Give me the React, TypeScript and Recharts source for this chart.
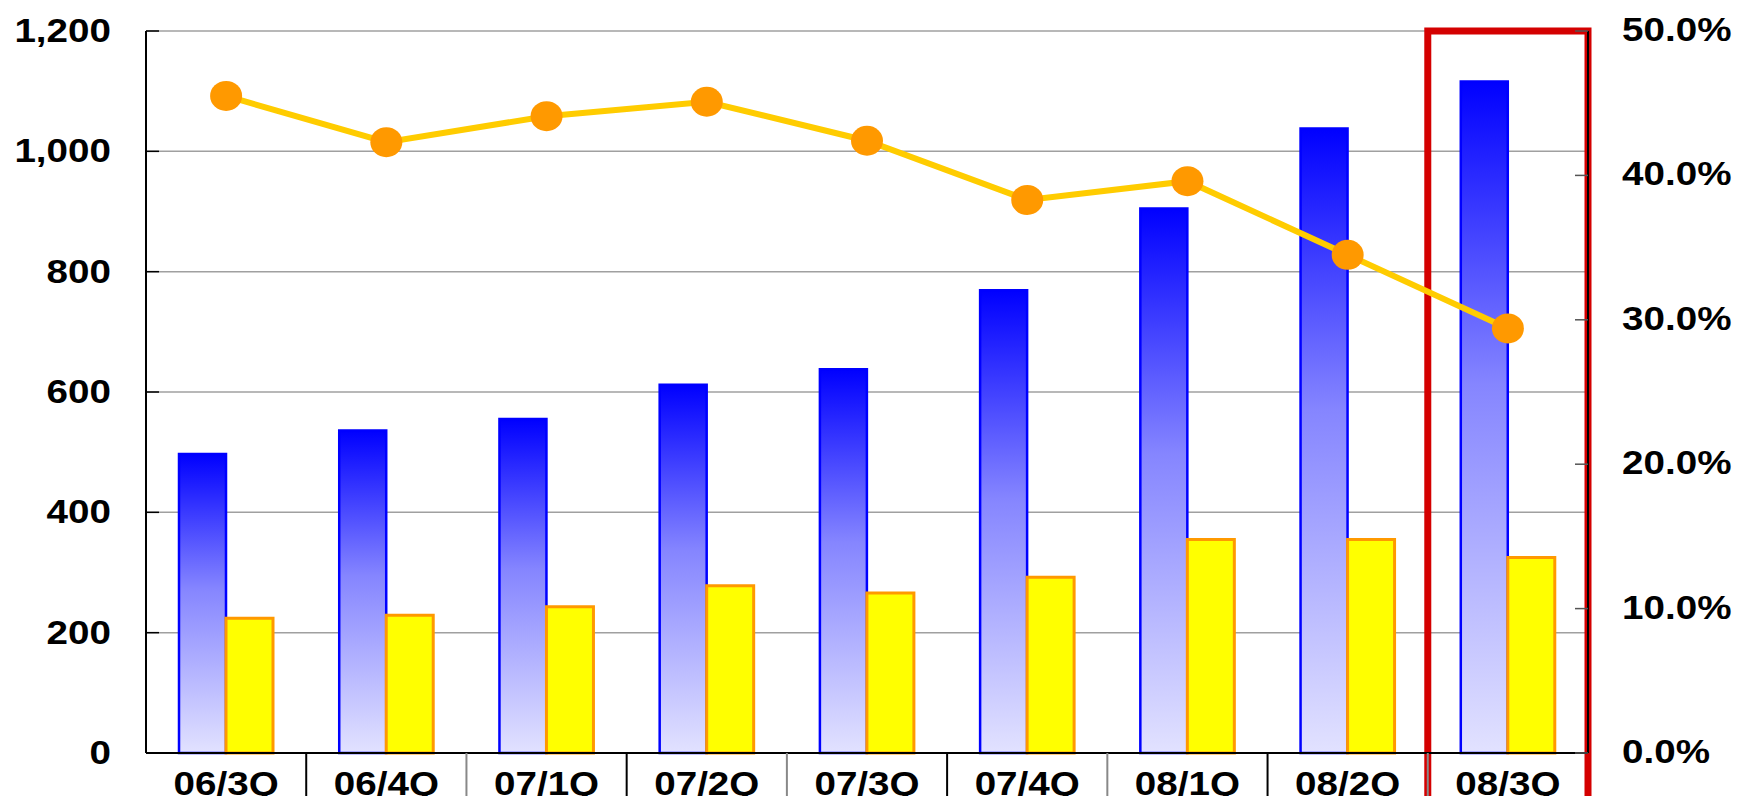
import { ComposedChart, Bar, Line, XAxis, YAxis, CartesianGrid, ReferenceArea } from 'recharts'

const quarters = ['06/3Q', '06/4Q', '07/1Q', '07/2Q', '07/3Q', '07/4Q', '08/1Q', '08/2Q', '08/3Q']
const totals = [497, 536, 555, 612, 638, 769, 905, 1038, 1116]
const parts = [224, 229, 243, 278, 266, 292, 355, 355, 325]
const ratios = [45.5, 42.3, 44.1, 45.1, 42.4, 38.3, 39.6, 34.5, 29.4]
const leftTicks = [0, 200, 400, 600, 800, 1000, 1200]
const rightTicks = [0, 10, 20, 30, 40, 50]

const W = 1737
const H = 796
const PLOT_LEFT = 146
const PLOT_RIGHT = 1588
const HALF_BAND = (PLOT_RIGHT - PLOT_LEFT) / quarters.length / 2
const FONT = '"Liberation Sans", Arial, sans-serif'
const STRETCH = 1.17

const data = quarters.map((q, i) => ({ q, total: totals[i], part: parts[i], ratio: ratios[i] }))

const LeftTick = ({ y, payload }: any) => (
  <g transform={`translate(111, ${y + 11}) scale(${STRETCH}, 1)`}>
    <text x={0} y={0} textAnchor="end" fontFamily={FONT} fontWeight="bold" fontSize={33} fill="#000">
      {payload.value.toLocaleString('en-US')}
    </text>
  </g>
)

const RightTick = ({ y, payload }: any) => (
  <g transform={`translate(1622, ${y + 10}) scale(${STRETCH}, 1)`}>
    <text x={0} y={0} textAnchor="start" fontFamily={FONT} fontWeight="bold" fontSize={33} fill="#000">
      {`${payload.value.toFixed(1)}%`}
    </text>
  </g>
)

const BottomTick = ({ x, y, payload, index }: any) => (
  <g>
    {index > 0 && (
      <line x1={x - HALF_BAND} x2={x - HALF_BAND} y1={753} y2={H} stroke={index % 2 ? '#000' : '#888'} strokeWidth={2} />
    )}
    <g transform={`translate(${x}, ${H - 1}) scale(${STRETCH}, 1)`}>
      <text x={0} y={0} textAnchor="middle" fontFamily={FONT} fontWeight="bold" fontSize={33} fill="#000">
        {payload.value}
      </text>
    </g>
  </g>
)

const Dot = ({ cx, cy, index }: any) => (
  <ellipse key={index} cx={cx} cy={cy} rx={16} ry={15} fill="#ff9900" />
)

const Highlight = ({ x, y, width }: any) => (
  <path
    d={`M${x} ${H + 10} L${x} ${y} L${x + width} ${y} L${x + width} ${H + 10}`}
    fill="none"
    stroke="#d40000"
    strokeWidth={7}
  />
)

export default function App() {
  return (
    <div style={{ position: 'absolute', left: 0, top: 0, background: '#fff' }}>
      <ComposedChart
        width={W}
        height={H}
        data={data}
        margin={{ top: 31, right: 0, bottom: 0, left: 0 }}
        barCategoryGap="20.6%"
        barGap={0}
      >
        <defs>
          <linearGradient id="blueGrad" x1="0" y1="0" x2="0" y2="1">
            <stop offset="0%" stopColor="#0000ff" />
            <stop offset="45%" stopColor="#8585ff" />
            <stop offset="100%" stopColor="#e2e2ff" />
          </linearGradient>
        </defs>
        <CartesianGrid vertical={false} stroke="#a0a0a0" strokeWidth={1.5} yAxisId="left" />
        <XAxis
          dataKey="q"
          height={43}
          axisLine={{ stroke: '#000', strokeWidth: 2 }}
          tickLine={false}
          tick={<BottomTick />}
          interval={0}
        />
        <YAxis
          yAxisId="left"
          orientation="left"
          width={PLOT_LEFT}
          domain={[0, 1200]}
          ticks={leftTicks}
          axisLine={{ stroke: '#000', strokeWidth: 2 }}
          tickLine={{ stroke: '#000', strokeWidth: 1.5 }}
          tickSize={-13}
          tick={<LeftTick />}
          interval={0}
        />
        <YAxis
          yAxisId="right"
          orientation="right"
          width={W - PLOT_RIGHT}
          domain={[0, 50]}
          ticks={rightTicks}
          axisLine={{ stroke: '#000', strokeWidth: 2 }}
          tickLine={{ stroke: '#555', strokeWidth: 1.5 }}
          tickSize={-13}
          tick={<RightTick />}
          interval={0}
        />
        <Bar
          yAxisId="left"
          dataKey="total"
          fill="url(#blueGrad)"
          stroke="#0000ff"
          strokeWidth={2.5}
          isAnimationActive={false}
        />
        <Bar
          yAxisId="left"
          dataKey="part"
          fill="#ffff00"
          stroke="#ff9900"
          strokeWidth={3}
          isAnimationActive={false}
        />
        <Line
          yAxisId="right"
          dataKey="ratio"
          stroke="#ffcc00"
          strokeWidth={6}
          dot={<Dot />}
          activeDot={false}
          isAnimationActive={false}
        />
        <ReferenceArea
          yAxisId="left"
          x1="08/3Q"
          x2="08/3Q"
          y1={0}
          y2={1200}
          ifOverflow="visible"
          shape={<Highlight />}
        />
      </ComposedChart>
    </div>
  )
}
